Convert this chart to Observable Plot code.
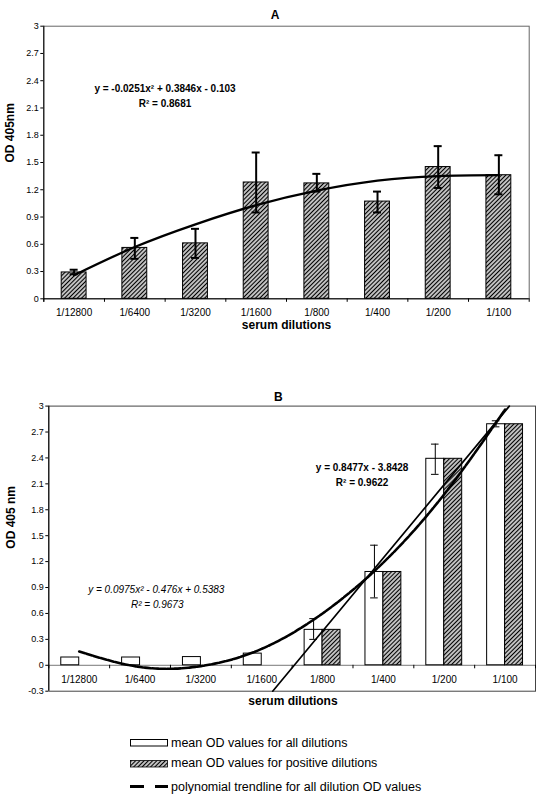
<!DOCTYPE html>
<html><head><meta charset="utf-8">
<script src="https://cdn.jsdelivr.net/npm/d3@7"></script>
<script src="https://cdn.jsdelivr.net/npm/@observablehq/plot@0.6"></script>
<style>
body{margin:0;background:#fff;font-family:Arial,"Liberation Sans",sans-serif;}
#wrap{position:relative;width:543px;height:797px;overflow:hidden;background:#fff}
.leg{position:absolute;left:171px;font-size:12.5px;line-height:14px;color:#000;white-space:nowrap}
.sw{position:absolute;left:130px}
</style></head><body>
<div id="wrap">
<svg width="0" height="0" style="position:absolute"><defs>
<pattern id="hatch" patternUnits="userSpaceOnUse" width="3" height="3" patternTransform="rotate(45)">
<rect width="3" height="3" fill="#fff"/><line x1="1.5" y1="0" x2="1.5" y2="3" stroke="#000" stroke-width="1.5"/>
</pattern></defs></svg>
<div id="pa" style="position:absolute;left:0;top:0"></div>
<div id="pb" style="position:absolute;left:0;top:380px"></div>
<svg class="sw" style="top:739px" width="39" height="8"><rect x="0.5" y="0.5" width="37" height="6.5" fill="#fff" stroke="#000" stroke-width="1"/></svg>
<div class="leg" style="top:735.7px">mean OD values for all dilutions</div>
<svg class="sw" style="top:759.5px" width="39" height="8"><rect x="0.5" y="0.5" width="37" height="6.5" fill="url(#hatch)" stroke="#000" stroke-width="0.8"/></svg>
<div class="leg" style="top:756.3px">mean OD values for positive dilutions</div>
<svg class="sw" style="top:782px" width="39" height="9"><line x1="0" y1="4.5" x2="38" y2="4.5" stroke="#000" stroke-width="3" stroke-dasharray="14,11"/></svg>
<div class="leg" style="top:779.7px">polynomial trendline for all dilution OD values</div>
</div>
<script>
// ---------- data ----------
const categories = ["1/12800","1/6400","1/3200","1/1600","1/800","1/400","1/200","1/100"];
// Panel A: mean OD 405nm, error bars, polynomial trend (read at each dilution)
const aValues = [0.29, 0.56, 0.61, 1.28, 1.27, 1.07, 1.45, 1.36];
const aErrHi  = [0.32, 0.67, 0.77, 1.61, 1.375, 1.18, 1.68, 1.58];
const aErrLo  = [0.27, 0.44, 0.45, 0.95, 1.18, 0.95, 1.22, 1.15];
const aTrend  = [0.26, 0.57, 0.82, 1.03, 1.19, 1.30, 1.35, 1.36];
const aEquation = "y = -0.0251x² + 0.3846x - 0.103";
const aR2 = "R² = 0.8681";
// Panel B
const bAll    = [0.09, 0.09, 0.095, 0.135, 0.41, 1.08, 2.39, 2.79];
const bPos    = [null, null, null, null, 0.41, 1.08, 2.39, 2.79];
const bErrHi  = [null, null, null, null, 0.54, 1.39, 2.56, 2.83];
const bErrLo  = [null, null, null, null, 0.30, 0.78, 2.21, 2.76];
const bPoly   = [0.16, -0.02, -0.01, 0.19, 0.60, 1.19, 1.98, 2.96];
const bLinearX = [4.18, 8.07];
const bLinearY = [-0.3, 3.0];
const bLinEq = "y = 0.8477x - 3.8428";
const bLinR2 = "R² = 0.9622";
const bPolyEq = "y = 0.0975x² - 0.476x + 0.5383";
const bPolyR2 = "R² = 0.9673";
const yTicksA = [0, 0.3, 0.6, 0.9, 1.2, 1.5, 1.8, 2.1, 2.4, 2.7, 3];
const yLabelsA = ["0","0.3","0.6","0.9","1.2","1.5","1.8","2.1","2.4","2.7","3"];
const yTicksB = [-0.3, 0, 0.3, 0.6, 0.9, 1.2, 1.5, 1.8, 2.1, 2.4, 2.7, 3];
const yLabelsB = ["-0.3","0","0.3","0.6","0.9","1.2","1.5","1.8","2.1","2.4","2.7","3"];

// ---------- helpers ----------
const FONT = 'Arial, "Liberation Sans", sans-serif';
const W = 543;
const bounds = d3.range(0.5, 9, 1);
const lab = (ticks, labels) => d => labels[ticks.findIndex(t => Math.abs(t - d) < 1e-9)];

// ---------- Panel A ----------
{
  const H = 340, mt = 25.7, mb = 340 - 298.3, ml = 43.3, mr = 543 - 528.7;
  const uy = 3 / (H - mt - mb), ux = 8 / (W - ml - mr);
  const rows = categories.map((c, k) => ({i: k + 1, c, v: aValues[k], hi: aErrHi[k], lo: aErrLo[k], t: aTrend[k]}));
  const cap = 4 * ux;
  const p = Plot.plot({
    width: W, height: H, marginTop: mt, marginBottom: mb, marginLeft: ml, marginRight: mr,
    style: {fontFamily: FONT, fontSize: "9px", color: "#000", background: "transparent"},
    x: {domain: [0.5, 8.5], axis: null},
    y: {domain: [0, 3], ticks: yTicksA, tickFormat: lab(yTicksA, yLabelsA), tickSize: 3, tickPadding: 2, label: null},
    marks: [
      Plot.frame({stroke: "#666"}),
      Plot.rect(rows, {x1: d => d.i - 0.205, x2: d => d.i + 0.205, y1: 0, y2: "v", fill: "url(#hatch)", stroke: "#000", strokeWidth: 1}),
      Plot.ruleX(rows, {x: "i", y1: "lo", y2: "hi", stroke: "#000", strokeWidth: 2}),
      Plot.ruleY(rows, {y: "hi", x1: d => d.i - cap, x2: d => d.i + cap, stroke: "#000", strokeWidth: 2}),
      Plot.ruleY(rows, {y: "lo", x1: d => d.i - cap, x2: d => d.i + cap, stroke: "#000", strokeWidth: 2}),
      Plot.line(rows, {x: "i", y: "t", curve: "natural", stroke: "#000", strokeWidth: 2.3}),
      Plot.ruleY([0], {stroke: "#000", strokeWidth: 1}),
      Plot.ruleX([0.5], {y1: -3.5 * uy, y2: 3, stroke: "#000", strokeWidth: 1}),
      Plot.ruleX(bounds, {y1: 0, y2: -3.5 * uy, stroke: "#000", strokeWidth: 1}),
      Plot.text(rows, {x: "i", y: 0, dy: 14.4, text: "c", fontSize: 10}),
      Plot.text(["serum dilutions"], {frameAnchor: "bottom", dy: 29.7, text: d => d, fontSize: 12, fontWeight: "bold"}),
      Plot.text(["OD 405nm"], {frameAnchor: "left", dx: -33.3, rotate: -90, text: d => d, fontSize: 12, fontWeight: "bold"}),
      Plot.text(["A"], {frameAnchor: "top", dx: -11.4, dy: -15.7, text: d => d, fontSize: 12, fontWeight: "bold"}),
      Plot.text([aEquation], {frameAnchor: "top-left", dx: 121.2, dy: 58.6, textAnchor: "middle", text: d => d, fontSize: 10, fontWeight: "bold"}),
      Plot.text([aR2], {frameAnchor: "top-left", dx: 121.2, dy: 73.6, textAnchor: "middle", text: d => d, fontSize: 10, fontWeight: "bold"})
    ]
  });
  document.getElementById("pa").appendChild(p);
}

// ---------- Panel B ----------
{
  const H = 330, mt = 405.6 - 380, mb = 710 - 690.7, ml = 48.3, mr = 543 - 535;
  const uy = 3.3 / (H - mt - mb), ux = 8 / (W - ml - mr);
  const rows = categories.map((c, k) => ({i: k + 1, c, all: bAll[k], pos: bPos[k], hi: bErrHi[k], lo: bErrLo[k], poly: bPoly[k]}));
  const err = rows.filter(d => d.hi != null);
  const lin = bLinearX.map((x, k) => ({x, y: bLinearY[k]}));
  const cap = 3.8 * ux;
  const bw = 0.295;
  const p = Plot.plot({
    width: W, height: H, marginTop: mt, marginBottom: mb, marginLeft: ml, marginRight: mr,
    style: {fontFamily: FONT, fontSize: "9px", color: "#000", background: "transparent"},
    x: {domain: [0.5, 8.5], axis: null},
    y: {domain: [-0.3, 3], ticks: yTicksB, tickFormat: lab(yTicksB, yLabelsB), tickSize: 3, tickPadding: 2, label: null},
    marks: [
      Plot.frame({stroke: "#444"}),
      Plot.ruleY([0], {stroke: "#777", strokeWidth: 1}),
      Plot.rect(rows, {x1: d => d.i - bw, x2: d => d.i, y1: 0, y2: "all", fill: "#fff", stroke: "#000", strokeWidth: 1}),
      Plot.rect(rows.filter(d => d.pos != null), {x1: d => d.i, x2: d => d.i + bw, y1: 0, y2: "pos", fill: "url(#hatch)", stroke: "#000", strokeWidth: 1}),
      Plot.ruleX(err, {x: d => d.i - bw / 2, y1: "lo", y2: "hi", stroke: "#000", strokeWidth: 1}),
      Plot.ruleY(err, {y: "hi", x1: d => d.i - bw / 2 - cap, x2: d => d.i - bw / 2 + cap, stroke: "#000", strokeWidth: 1}),
      Plot.ruleY(err, {y: "lo", x1: d => d.i - bw / 2 - cap, x2: d => d.i - bw / 2 + cap, stroke: "#000", strokeWidth: 1}),
      Plot.line(lin, {x: "x", y: "y", stroke: "#000", strokeWidth: 1.7}),
      Plot.line(rows, {x: "i", y: "poly", curve: "natural", stroke: "#000", strokeWidth: 2.6, strokeDasharray: "6,1.5"}),
      Plot.ruleX([0.5], {y1: -0.3, y2: 3, stroke: "#000", strokeWidth: 1}),
      Plot.ruleX(bounds, {y1: 0, y2: -3.5 * uy, stroke: "#000", strokeWidth: 1}),
      Plot.text(rows, {x: "i", y: 0, dy: 14.5, text: "c", fontSize: 10}),
      Plot.text(["serum dilutions"], {frameAnchor: "bottom", dx: 0.8, dy: 13.6, text: d => d, fontSize: 12, fontWeight: "bold"}),
      Plot.text(["OD 405 nm"], {frameAnchor: "left", dx: -37.9, rotate: -90, text: d => d, fontSize: 12, fontWeight: "bold"}),
      Plot.text(["B"], {frameAnchor: "top", dx: -13.7, dy: -13.9, text: d => d, fontSize: 12, fontWeight: "bold"}),
      Plot.text([bLinEq], {frameAnchor: "top-left", dx: 313.3, dy: 57.7, textAnchor: "middle", text: d => d, fontSize: 10, fontWeight: "bold"}),
      Plot.text([bLinR2], {frameAnchor: "top-left", dx: 313.3, dy: 72.7, textAnchor: "middle", text: d => d, fontSize: 10, fontWeight: "bold"}),
      Plot.text([bPolyEq], {frameAnchor: "top-left", dx: 107.5, dy: 180.1, textAnchor: "middle", text: d => d, fontSize: 10, fontStyle: "italic"}),
      Plot.text([bPolyR2], {frameAnchor: "top-left", dx: 108.4, dy: 194.4, textAnchor: "middle", text: d => d, fontSize: 10, fontStyle: "italic"})
    ]
  });
  document.getElementById("pb").appendChild(p);
}
</script>
</body></html>
